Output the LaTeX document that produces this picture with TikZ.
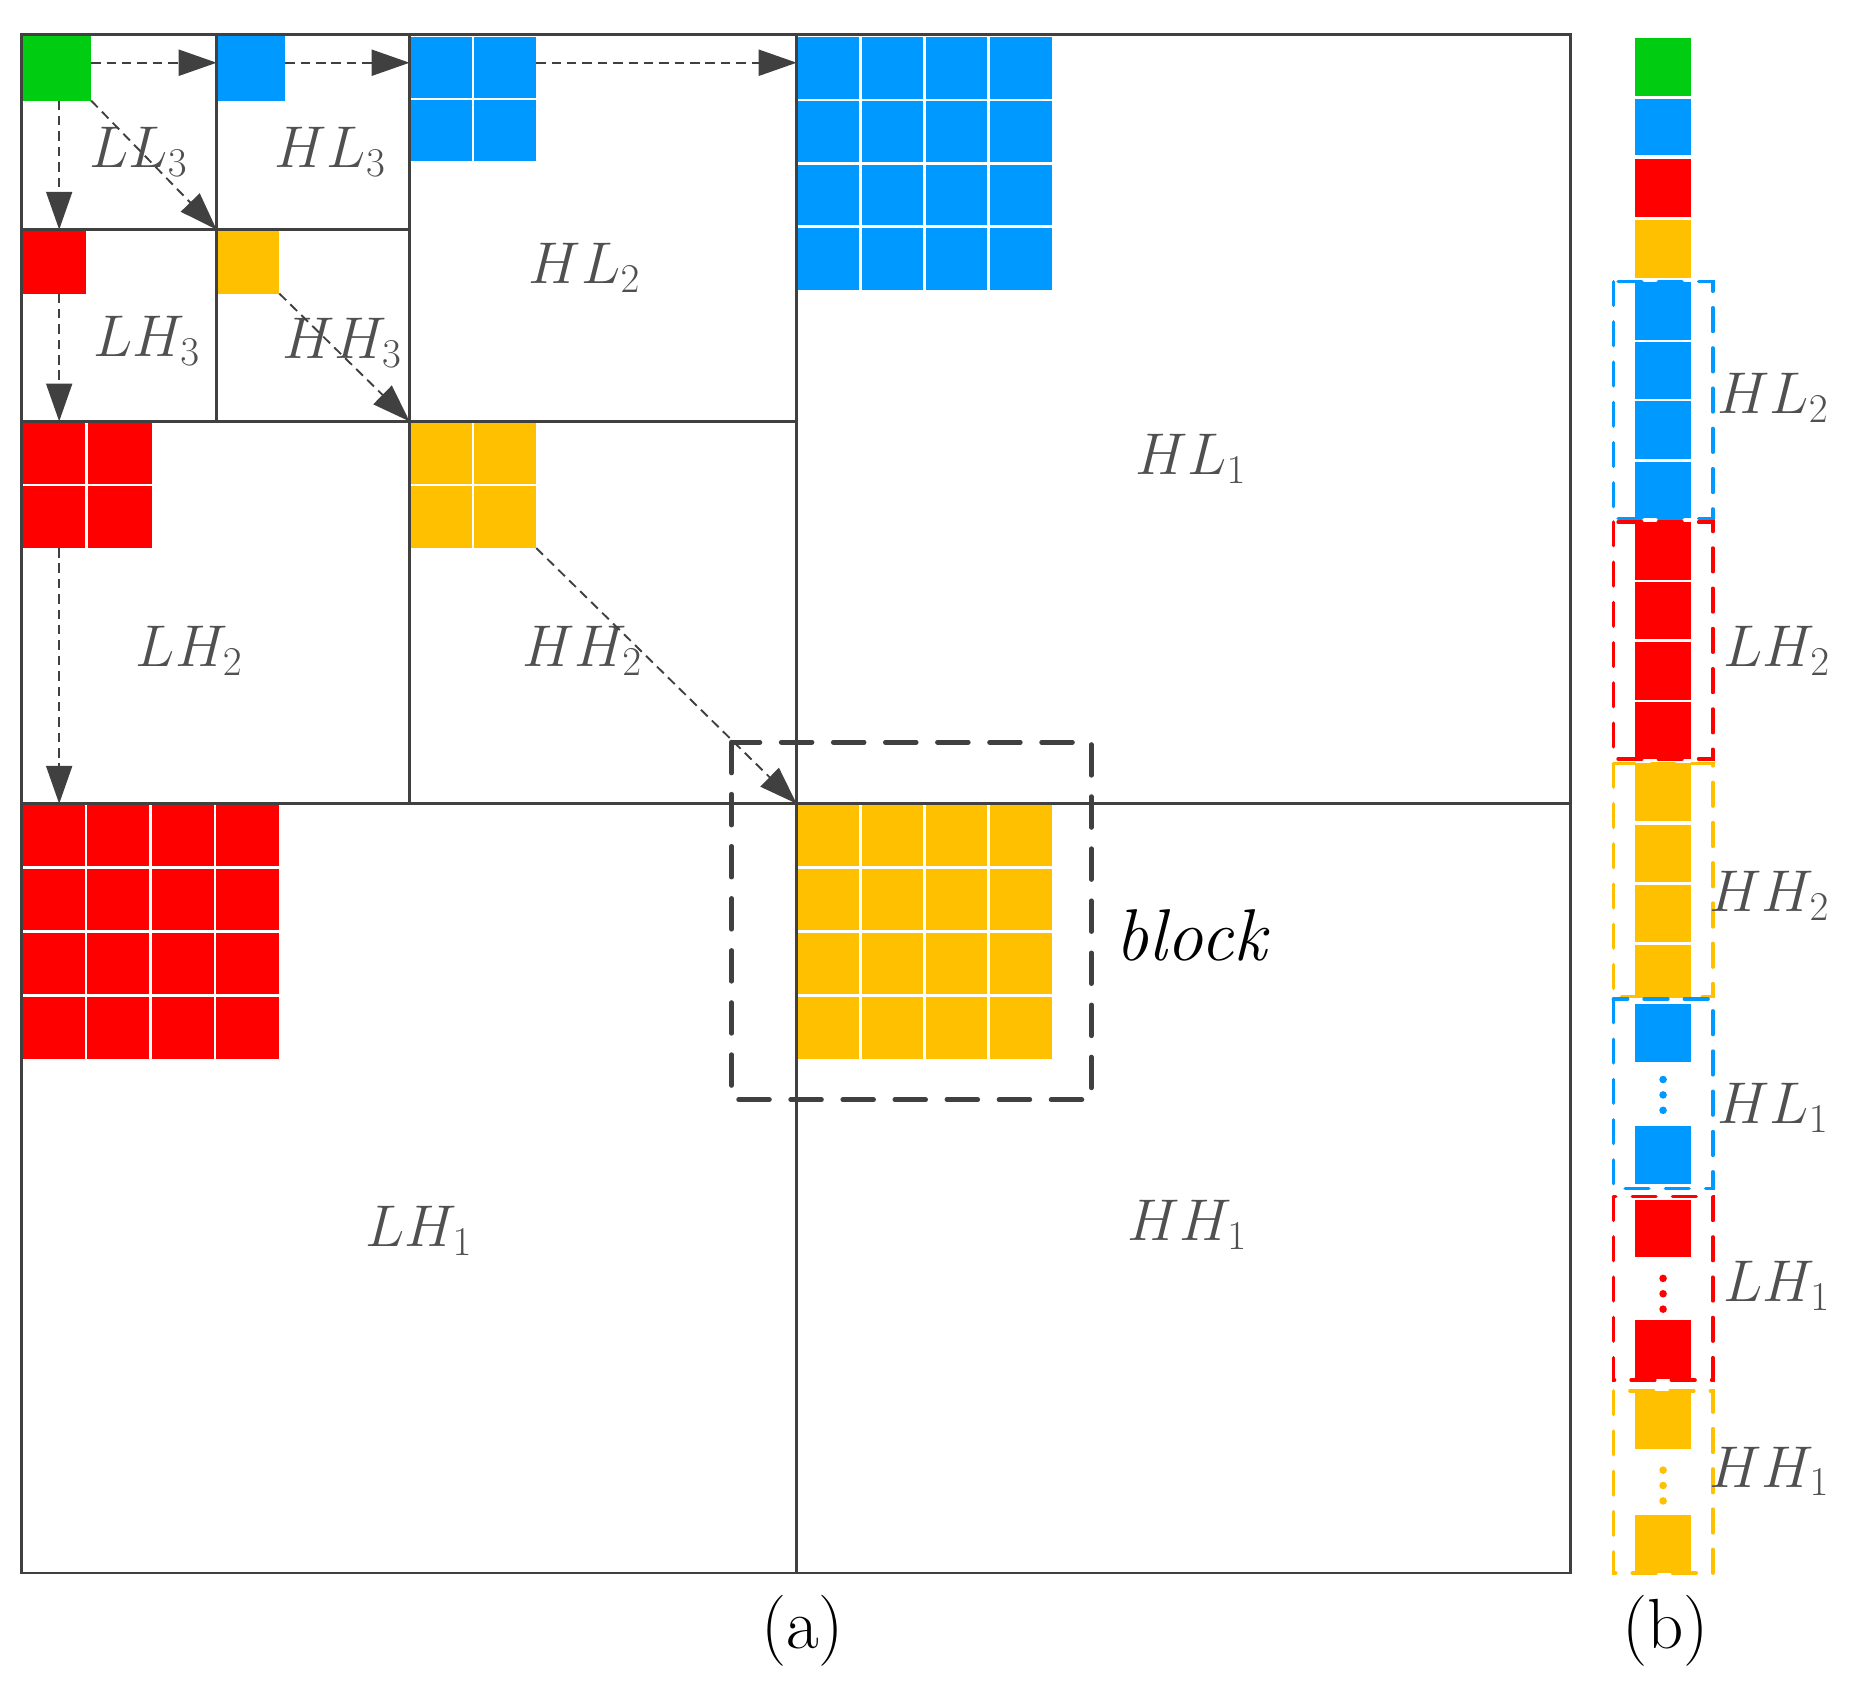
\documentclass[tikz,border=0pt]{standalone}
\usetikzlibrary{arrows.meta}
\definecolor{cgreen}{HTML}{00CC11}
\definecolor{cblue}{HTML}{0099FF}
\definecolor{cred}{HTML}{FF0000}
\definecolor{cyellow}{HTML}{FFC000}
\definecolor{cgray}{HTML}{404040}
\definecolor{lblgray}{HTML}{505050}
% x1 y1 x2 y2 list-of-inner-indices n color
\newcommand\cgrid[7]{%
  \fill[#7] (#1,#2) rectangle (#3,#4);
  \foreach \k in {#5}{%
    \draw[white,line width=1pt] ({#1+\k*(#3-#1)/#6},#2) -- ({#1+\k*(#3-#1)/#6},#4);
    \draw[white,line width=1pt] (#1,{#2+\k*(#4-#2)/#6}) -- (#3,{#2+\k*(#4-#2)/#6});
  }}
\newcommand\bsq[3]{\fill[#3] (1381,#1) rectangle (1429,#2);}
\begin{document}
\begin{tikzpicture}[x=0.5pt,y=-0.5pt,
  gridline/.style={draw=cgray,line width=1.1pt},
  arr/.style={draw=cgray,line width=0.8pt,dash pattern=on 4pt off 2.5pt,
    -{Triangle[length=16pt,width=11pt]}},
  lbl/.style={text=lblgray,font=\fontsize{24}{28}\selectfont,inner sep=0pt},
  captext/.style={text=black,font=\fontsize{30}{34}\selectfont,inner sep=0pt},
  blockbox/.style={draw=cgray,line width=2pt,line cap=round,dash pattern=on 13pt off 9pt},
  grpbox/.style={line width=1.5pt,line cap=round,dash pattern=on 10pt off 7pt},
  dot/.style={circle,inner sep=0pt,minimum size=3.2pt}]
\useasboundingbox (0,0) rectangle (1568,1424);

% ---------- coloured coefficient blocks (a) ----------
\cgrid{18}{29}{77}{85}{}{1}{cgreen}
\cgrid{183}{29}{241}{85}{}{1}{cblue}
\cgrid{18}{194}{73}{248}{}{1}{cred}
\cgrid{183}{194}{236}{248}{}{1}{cyellow}
\cgrid{346}{31}{453}{136}{1}{2}{cblue}
\cgrid{18}{356}{128}{463}{1}{2}{cred}
\cgrid{346}{356}{453}{463}{1}{2}{cyellow}
\cgrid{673}{31}{889}{245}{1,2,3}{4}{cblue}
\cgrid{18}{679}{236}{895}{1,2,3}{4}{cred}
\cgrid{673}{679}{889}{895}{1,2,3}{4}{cyellow}

% ---------- sub-band grid ----------
\draw[gridline] (18,29) rectangle (1327,1329);
\draw[gridline] (673,29) -- (673,1329);
\draw[gridline] (18,679) -- (1327,679);
\draw[gridline] (346,29) -- (346,679);
\draw[gridline] (18,356) -- (673,356);
\draw[gridline] (183,29) -- (183,356);
\draw[gridline] (18,194) -- (346,194);

% ---------- labels (a) ----------
\node[lbl] (ll3) at (117,128) {$LL_3$};
\node[lbl] (hl3) at (279,128) {$HL_3$};
\node[lbl] (lh3) at (124,288) {$LH_3$};
\node[lbl] (hh3) at (289,290) {$HH_3$};
\node[lbl] (hl2) at (494,226) {$HL_2$};
\node[lbl] (lh2) at (160,550) {$LH_2$};
\node[lbl] (hh2) at (492,550) {$HH_2$};
\node[lbl] (hl1) at (1006,388) {$HL_1$};
\node[lbl] (lh1) at (354,1040) {$LH_1$};
\node[lbl] (hh1) at (1003,1035) {$HH_1$};
\node[captext,font=\itshape\fontsize{31}{34}\selectfont] (blk) at (1006,790) {block};
\node[captext] (capa) at (678,1378) {(a)};
\node[captext] (capb) at (1407,1378) {(b)};

% ---------- scan-order arrows ----------
\coordinate (g0) at (77,53);   \coordinate (g1) at (183,53);
\coordinate (b0) at (241,53);  \coordinate (b1) at (346,53);
\coordinate (c0) at (453,53);  \coordinate (c1) at (673,53);
\coordinate (d0) at (50,85);   \coordinate (d1) at (50,194);
\coordinate (e0) at (50,248);  \coordinate (e1) at (50,356);
\coordinate (f0) at (50,463);  \coordinate (f1) at (50,679);
\coordinate (h0) at (77,85);   \coordinate (h1) at (183,194);
\coordinate (i0) at (236,248); \coordinate (i1) at (346,356);
\coordinate (j0) at (453,463); \coordinate (j1) at (673,679);
\draw[arr] (g0) -- (g1);
\draw[arr] (b0) -- (b1);
\draw[arr] (c0) -- (c1);
\draw[arr] (d0) -- (d1);
\draw[arr] (e0) -- (e1);
\draw[arr] (f0) -- (f1);
\draw[arr] (h0) -- (h1);
\draw[arr] (i0) -- (i1);
\draw[arr] (j0) -- (j1);

% ---------- block frame ----------
\draw[blockbox] (618,627) rectangle (922,929);

% ---------- panel (b) ----------
\draw[grpbox,draw=cblue]   (1363,238) rectangle (1447,438);
\draw[grpbox,draw=cred]    (1363,441) rectangle (1447,641);
\draw[grpbox,draw=cyellow] (1363,645) rectangle (1447,842);
\draw[grpbox,draw=cblue]   (1363,844) rectangle (1447,1004);
\draw[grpbox,draw=cred]    (1363,1011) rectangle (1447,1166);
\draw[grpbox,draw=cyellow] (1363,1175) rectangle (1447,1329);

\bsq{32}{81}{cgreen}
\bsq{84}{131}{cblue}
\bsq{134}{183}{cred}
\bsq{186}{235}{cyellow}
\bsq{238}{287}{cblue}\bsq{289}{337}{cblue}\bsq{339}{388}{cblue}\bsq{390}{438}{cblue}
\bsq{441}{490}{cred}\bsq{492}{540}{cred}\bsq{542}{591}{cred}\bsq{593}{641}{cred}
\bsq{645}{694}{cyellow}\bsq{697}{745}{cyellow}\bsq{748}{796}{cyellow}\bsq{798}{842}{cyellow}
\bsq{848}{897}{cblue}\bsq{951}{1000}{cblue}
\bsq{1014}{1062}{cred}\bsq{1115}{1165}{cred}
\bsq{1175}{1224}{cyellow}\bsq{1280}{1329}{cyellow}

\foreach \yy in {912,925,938} \node[dot,fill=cblue] at (1405,\yy) {};
\foreach \yy in {1080,1093,1106} \node[dot,fill=cred] at (1405,\yy) {};
\foreach \yy in {1242,1255,1268} \node[dot,fill=cyellow] at (1405,\yy) {};

\node[lbl] (bhl2) at (1498,336) {$HL_2$};
\node[lbl] (blh2) at (1501,550) {$LH_2$};
\node[lbl] (bhh2) at (1495,757) {$HH_2$};
\node[lbl] (bhl1) at (1498,936) {$HL_1$};
\node[lbl] (blh1) at (1501,1086) {$LH_1$};
\node[lbl] (bhh1) at (1495,1243) {$HH_1$};
\end{tikzpicture}
\end{document}
